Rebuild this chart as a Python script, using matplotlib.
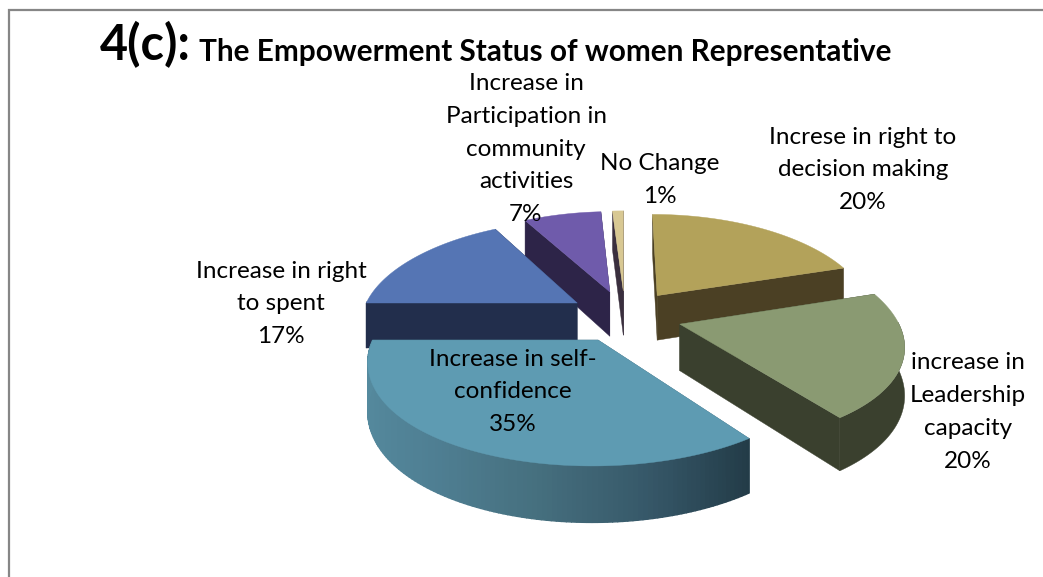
import numpy as np
import matplotlib
matplotlib.use('Agg')
import matplotlib.pyplot as plt
from matplotlib.patches import Polygon
from matplotlib.colors import LinearSegmentedColormap

plt.rcParams['font.family'] = ['Lato', 'DejaVu Sans']

# Slice data, clockwise from 12 o'clock
labels = ["Increse in right to\ndecision making", "increase in\nLeadership\ncapacity",
          "Increase in self-\nconfidence", "Increase in right\nto spent",
          "Increase in\nParticipation in\ncommunity\nactivities", "No Change"]
shares = [20, 20, 35, 17, 7, 1]

top_colors = ["#B3A25A", "#8A9A72", "#5E9BB2", "#5575B4", "#6F5BAB", "#D8C893"]
side_colors = ["#4B4024", "#3A402E", "#3F6878", "#222E4C", "#2D2448", "#3A2F3E"]
label_xy = [(863, 170), (968, 412), (513, 392), (281, 304), (526, 149), (660, 180)]

# Projection of the pie plane onto the figure
CX, CY = 625, 316
RX, RY = 216, 99
PX, PY = 0.177, 0.15
DEPTH = 46
EXPLODE = 0.263


def project(x, y, drop=0.0):
    sx = CX + RX * x / (1 + PX * y)
    sy = CY - RY * y / (1 + PY * y) + drop / (1 + PY * y)
    return np.column_stack([sx, sy])


def side_quad(ax, xs, ys, color, zorder, lw=0.3):
    upper = project(xs, ys)
    lower = project(xs, ys, DEPTH)
    pts = np.vstack([upper, lower[::-1]])
    ax.add_patch(Polygon(pts, closed=True, fc=color, ec=color, lw=lw, zorder=zorder))


fig = plt.figure(figsize=(10.43, 5.77), dpi=100)
ax = fig.add_axes([0, 0, 1, 1])
ax.set_xlim(0, 1043)
ax.set_ylim(577, 0)
ax.axis('off')

# Chart frame
ax.plot([9, 9, 1043], [577, 10, 10], color="#868686", lw=1.6, solid_joinstyle='miter', zorder=1)

teal_cmap = LinearSegmentedColormap.from_list(
    "teal_side", ["#558A9E", "#4F7F93", "#46707F", "#37596A", "#233C48"])

fracs = np.cumsum([0] + shares) / sum(shares)
angles = fracs * 2 * np.pi

# Back slices first so nearer ones paint over them
order = sorted(range(len(shares)),
               key=lambda k: -EXPLODE * np.cos((angles[k] + angles[k + 1]) / 2))
for rank, i in enumerate(order):
    a0, a1 = angles[i], angles[i + 1]
    mid = (a0 + a1) / 2
    ox, oy = EXPLODE * np.sin(mid), EXPLODE * np.cos(mid)
    z = 2 + rank

    th = np.linspace(a0, a1, 120)
    arc_x, arc_y = ox + np.sin(th), oy + np.cos(th)

    # Radial walls
    for edge in (a0, a1):
        xs = np.array([ox, ox + np.sin(edge)])
        ys = np.array([oy, oy + np.cos(edge)])
        side_quad(ax, xs, ys, side_colors[i], z)

    # Outer rim, only the part facing the viewer
    idx = np.where(np.cos(th) < 0.02)[0]
    if len(idx):
        if i == 2:
            # The large slice has a shaded rim, dark on the right
            for j in idx[:-1]:
                t = (np.sin(th[j]) + 1) / 1.59
                side_quad(ax, arc_x[j:j + 2], arc_y[j:j + 2], teal_cmap(t), z, lw=1.0)
        else:
            side_quad(ax, arc_x[idx], arc_y[idx], side_colors[i], z)

    top = project(np.r_[ox, arc_x], np.r_[oy, arc_y])
    ax.add_patch(Polygon(top, closed=True, fc=top_colors[i], ec=top_colors[i], lw=0.3, zorder=z))

# Title
ax.text(100, 45, "4(c):", fontsize=35, fontweight='bold', ha='left', va='center', color='black', zorder=20)
ax.text(199, 52, "The Empowerment Status of women Representative", fontsize=21.45,
        fontweight='bold', ha='left', va='center', color='black', zorder=20)

# Slice labels with their percentages
for name, v, (lx, ly) in zip(labels, shares, label_xy):
    ax.text(lx, ly, f"{name}\n{v}%", fontsize=17.5, ha='center', va='center',
            linespacing=1.7, color='black', zorder=20)

fig.savefig("out.png", dpi=100)
plt.close(fig)
